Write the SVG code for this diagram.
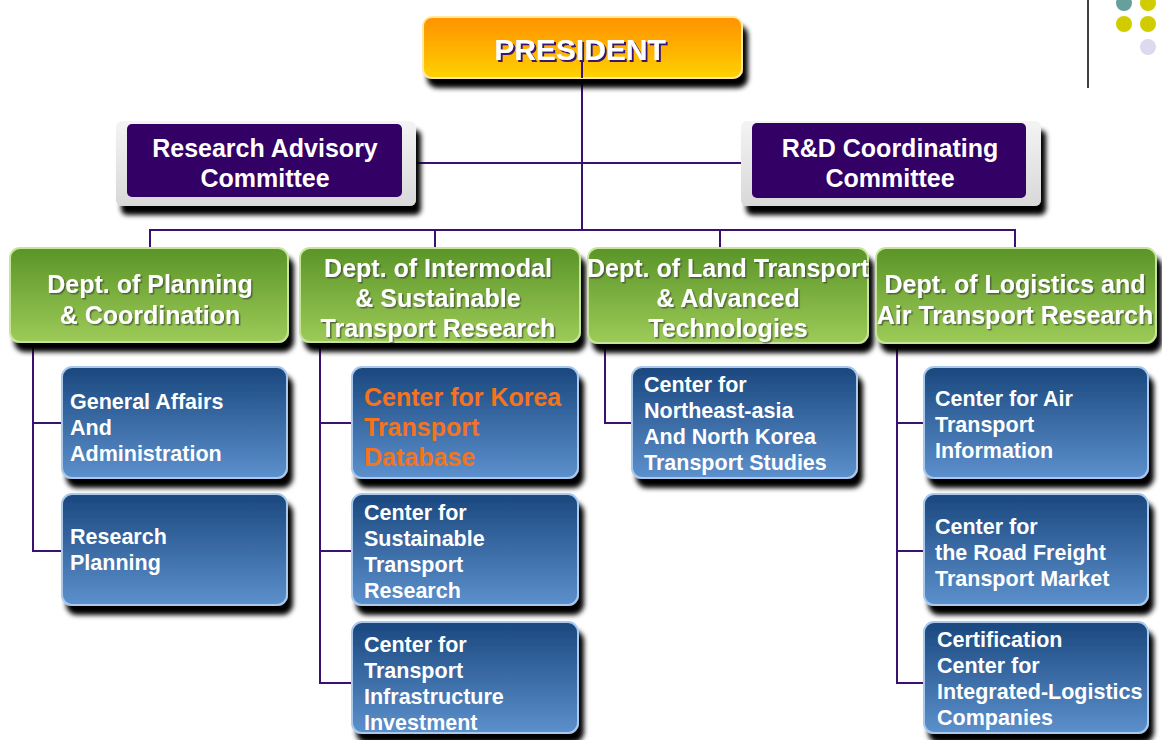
<svg xmlns="http://www.w3.org/2000/svg" width="1162" height="740" viewBox="0 0 1162 740">
<defs>
<linearGradient id="gOrange" x1="0" y1="0" x2="0" y2="1">
<stop offset="0" stop-color="#FF9200"/><stop offset="0.5" stop-color="#FFB000"/><stop offset="1" stop-color="#FFD200"/>
</linearGradient>
<linearGradient id="gGreen" x1="0" y1="0" x2="0" y2="1">
<stop offset="0" stop-color="#5A9428"/><stop offset="1" stop-color="#9DCB58"/>
</linearGradient>
<linearGradient id="gBlue" x1="0" y1="0" x2="0" y2="1">
<stop offset="0" stop-color="#1A477E"/><stop offset="1" stop-color="#5C90CC"/>
</linearGradient>
<linearGradient id="gFrame" x1="0" y1="0" x2="0" y2="1">
<stop offset="0" stop-color="#F4F4F4"/><stop offset="1" stop-color="#D8D8D8"/>
</linearGradient>
<filter id="sh" x="-10%" y="-20%" width="125%" height="160%">
<feGaussianBlur in="SourceAlpha" stdDeviation="2.5"/>
<feOffset dx="5" dy="9" result="b"/>
<feFlood flood-color="#000" flood-opacity="1"/>
<feComposite in2="b" operator="in"/>
<feMerge><feMergeNode/><feMergeNode in="SourceGraphic"/></feMerge>
</filter>
<filter id="tsh" x="-5%" y="-20%" width="110%" height="140%">
<feDropShadow dx="1.5" dy="1.5" stdDeviation="0.5" flood-color="#333" flood-opacity="0.6"/>
</filter>
<filter id="psh" x="-5%" y="-20%" width="110%" height="140%">
<feDropShadow dx="2" dy="2" stdDeviation="0" flood-color="#3A1670"/>
</filter>
</defs>
<style>
text{font-family:"Liberation Sans",Arial,sans-serif;font-weight:bold;fill:#fff}
.pres{font-size:30px;text-anchor:middle}
.com{font-size:25px;text-anchor:middle}
.dept{font-size:25px;text-anchor:middle}
.ctr{font-size:21.5px}
.hl{font-size:25px;fill:#F4741E}
.conn{stroke:#3A1070;stroke-width:2;fill:none}
.blue{fill:url(#gBlue);stroke:#A8C8EC;stroke-width:2}
.green{fill:url(#gGreen);stroke:#C8E49A;stroke-width:2}
</style>

<g id="decor">
<line x1="1088" y1="0" x2="1088" y2="88" stroke="#000" stroke-width="1.5"/>
<circle cx="1124" cy="3" r="8" fill="#66A09C"/>
<circle cx="1148" cy="3" r="8" fill="#D0CC00"/>
<circle cx="1124" cy="24" r="8" fill="#D0CC00"/>
<circle cx="1148" cy="24" r="8" fill="#D0CC00"/>
<circle cx="1148" cy="47" r="8" fill="#DCDAEE"/>
</g>

<g id="connectors">
<line class="conn" x1="582" y1="60" x2="582" y2="230"/>
<line class="conn" x1="402" y1="163" x2="752" y2="163"/>
<polyline class="conn" points="150,248 150,230 1015,230 1015,248"/>
<line class="conn" x1="435" y1="230" x2="435" y2="248"/>
<line class="conn" x1="720" y1="230" x2="720" y2="248"/>
<polyline class="conn" points="33,343 33,551 62,551"/>
<line class="conn" x1="33" y1="423" x2="62" y2="423"/>
<polyline class="conn" points="320,343 320,683 352,683"/>
<line class="conn" x1="320" y1="423" x2="352" y2="423"/>
<line class="conn" x1="320" y1="551" x2="352" y2="551"/>
<polyline class="conn" points="605,343 605,423 632,423"/>
<polyline class="conn" points="897,343 897,683 924,683"/>
<line class="conn" x1="897" y1="423" x2="924" y2="423"/>
<line class="conn" x1="897" y1="551" x2="924" y2="551"/>
</g>

<g id="president">
<rect x="423" y="17" width="319" height="61" rx="9" fill="url(#gOrange)" stroke="#FFE9A0" stroke-width="2" filter="url(#sh)"/>
<line class="conn" x1="582" y1="50" x2="582" y2="78"/>
<text class="pres" x="580" y="60" filter="url(#psh)">PRESIDENT</text>
</g>

<g id="research-advisory">
<rect x="116" y="121" width="300" height="85" rx="6" fill="url(#gFrame)" filter="url(#sh)"/>
<rect x="127" y="124" width="275" height="73" rx="5" fill="#330066"/>
<text class="com" x="265" y="157">Research Advisory</text>
<text class="com" x="265" y="187">Committee</text>
</g>

<g id="rd-coordinating">
<rect x="741" y="121" width="300" height="85" rx="6" fill="url(#gFrame)" filter="url(#sh)"/>
<rect x="752" y="123" width="274" height="75" rx="5" fill="#330066"/>
<text class="com" x="890" y="157">R&amp;D Coordinating</text>
<text class="com" x="890" y="187">Committee</text>
</g>

<g id="dept-planning">
<rect class="green" x="10" y="248" width="278" height="94" rx="10" filter="url(#sh)"/>
<text class="dept" x="150" y="293" filter="url(#tsh)">Dept. of Planning</text>
<text class="dept" x="150" y="324" filter="url(#tsh)">&amp; Coordination</text>
</g>

<g id="dept-intermodal">
<rect class="green" x="300" y="248" width="280" height="94" rx="10" filter="url(#sh)"/>
<text class="dept" x="438" y="277" filter="url(#tsh)">Dept. of Intermodal</text>
<text class="dept" x="438" y="307" filter="url(#tsh)">&amp; Sustainable</text>
<text class="dept" x="438" y="337" filter="url(#tsh)">Transport Research</text>
</g>

<g id="dept-land">
<rect class="green" x="588" y="248" width="280" height="95" rx="10" filter="url(#sh)"/>
<text class="dept" x="728" y="277" filter="url(#tsh)">Dept. of Land Transport</text>
<text class="dept" x="728" y="307" filter="url(#tsh)">&amp; Advanced</text>
<text class="dept" x="728" y="337" filter="url(#tsh)">Technologies</text>
</g>

<g id="dept-logistics">
<rect class="green" x="876" y="248" width="280" height="95" rx="10" filter="url(#sh)"/>
<text class="dept" x="1015" y="293" filter="url(#tsh)">Dept. of Logistics and</text>
<text class="dept" x="1015" y="324" filter="url(#tsh)">Air Transport Research</text>
</g>

<g id="general-affairs">
<rect class="blue" x="62" y="367" width="225" height="111" rx="10" filter="url(#sh)"/>
<text class="ctr" x="70" y="409">General Affairs</text>
<text class="ctr" x="70" y="435">And</text>
<text class="ctr" x="70" y="461">Administration</text>
</g>

<g id="research-planning">
<rect class="blue" x="62" y="494" width="225" height="111" rx="10" filter="url(#sh)"/>
<text class="ctr" x="70" y="544">Research</text>
<text class="ctr" x="70" y="570">Planning</text>
</g>

<g id="korea-db">
<rect class="blue" x="352" y="367" width="226" height="111" rx="10" filter="url(#sh)"/>
<text class="hl" x="364" y="406">Center for Korea</text>
<text class="hl" x="364" y="436">Transport</text>
<text class="hl" x="364" y="466">Database</text>
</g>

<g id="sustainable">
<rect class="blue" x="352" y="494" width="226" height="111" rx="10" filter="url(#sh)"/>
<text class="ctr" x="364" y="520">Center for</text>
<text class="ctr" x="364" y="546">Sustainable</text>
<text class="ctr" x="364" y="572">Transport</text>
<text class="ctr" x="364" y="598">Research</text>
</g>

<g id="infrastructure">
<rect class="blue" x="352" y="622" width="226" height="111" rx="10" filter="url(#sh)"/>
<text class="ctr" x="364" y="652">Center for</text>
<text class="ctr" x="364" y="678">Transport</text>
<text class="ctr" x="364" y="704">Infrastructure</text>
<text class="ctr" x="364" y="730">Investment</text>
</g>

<g id="northeast-asia">
<rect class="blue" x="632" y="367" width="225" height="111" rx="10" filter="url(#sh)"/>
<text class="ctr" x="644" y="392">Center for</text>
<text class="ctr" x="644" y="418">Northeast-asia</text>
<text class="ctr" x="644" y="444">And North Korea</text>
<text class="ctr" x="644" y="470">Transport Studies</text>
</g>

<g id="air-transport">
<rect class="blue" x="924" y="367" width="224" height="111" rx="10" filter="url(#sh)"/>
<text class="ctr" x="935" y="406">Center for Air</text>
<text class="ctr" x="935" y="432">Transport</text>
<text class="ctr" x="935" y="458">Information</text>
</g>

<g id="road-freight">
<rect class="blue" x="924" y="494" width="224" height="111" rx="10" filter="url(#sh)"/>
<text class="ctr" x="935" y="534">Center for</text>
<text class="ctr" x="935" y="560">the Road Freight</text>
<text class="ctr" x="935" y="586">Transport Market</text>
</g>

<g id="certification">
<rect class="blue" x="924" y="622" width="224" height="111" rx="10" filter="url(#sh)"/>
<text class="ctr" x="937" y="647">Certification</text>
<text class="ctr" x="937" y="673">Center for</text>
<text class="ctr" x="937" y="699">Integrated-Logistics</text>
<text class="ctr" x="937" y="725">Companies</text>
</g>
</svg>
